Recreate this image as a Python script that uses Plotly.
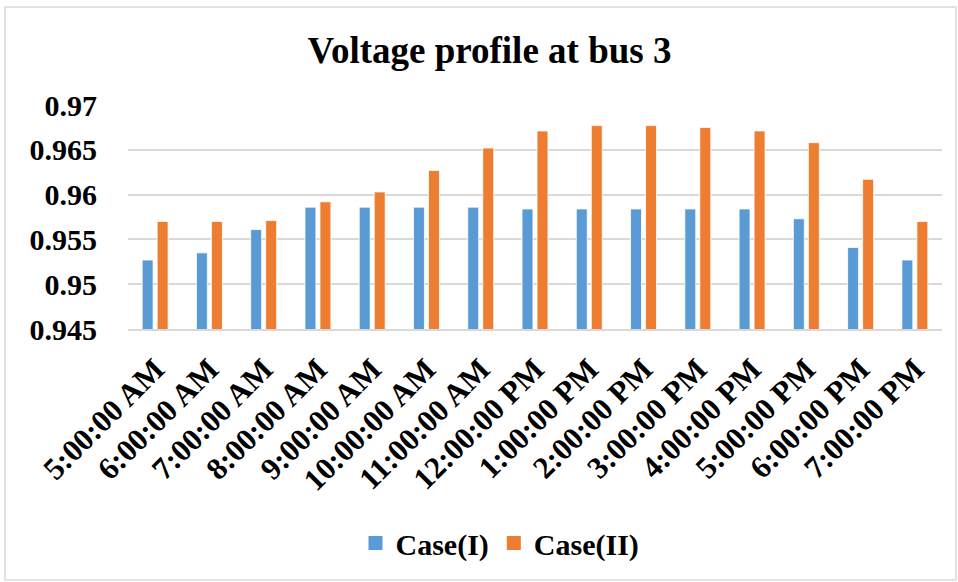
import plotly.graph_objects as go

# Hourly time stamps
hours = ["5:00:00 AM", "6:00:00 AM", "7:00:00 AM", "8:00:00 AM", "9:00:00 AM",
         "10:00:00 AM", "11:00:00 AM", "12:00:00 PM", "1:00:00 PM", "2:00:00 PM",
         "3:00:00 PM", "4:00:00 PM", "5:00:00 PM", "6:00:00 PM", "7:00:00 PM"]

# Bus 3 voltage (p.u.)
case_1 = [0.9527, 0.9535, 0.9561, 0.9586, 0.9586, 0.9586, 0.9586, 0.9584,
          0.9584, 0.9584, 0.9584, 0.9584, 0.9573, 0.9541, 0.9527]
case_2 = [0.9570, 0.9570, 0.9571, 0.9592, 0.9603, 0.9627, 0.9652, 0.9671,
          0.9677, 0.9677, 0.9675, 0.9671, 0.9658, 0.9617, 0.9570]

series_names = ["Case(I)", "Case(II)"]
series_colors = ["#5B9BD5", "#ED7D31"]

y_ticks = [0.945, 0.95, 0.955, 0.96, 0.965, 0.97]
y_tick_text = ["0.945", "0.95", "0.955", "0.96", "0.965", "0.97"]

SERIF = "Liberation Serif"
GRID = "#D9D9D9"

fig = go.Figure()
for name, color, values in zip(series_names, series_colors, [case_1, case_2]):
    fig.add_trace(go.Bar(x=hours, y=values, name=name, showlegend=False,
                         marker=dict(color=color, line=dict(color="white", width=0.8))))
# Square legend keys
for name, color in zip(series_names, series_colors):
    fig.add_trace(go.Scatter(x=[None], y=[None], mode="markers", name=name,
                             marker=dict(symbol="square", size=14, color=color)))

fig.update_layout(
    width=958, height=582,
    margin=dict(l=128, r=16, t=105, b=253),
    paper_bgcolor="white", plot_bgcolor="white",
    barmode="group", bargap=0.447, bargroupgap=0.27,
    title=dict(text="Voltage profile at bus 3", x=0.511, xanchor="center",
               y=1 - 50 / 582, yanchor="middle",
               font=dict(family=SERIF, size=37, color="black", weight="bold")),
    legend=dict(orientation="h", x=0.457, xanchor="center", y=-0.955, yanchor="middle",
                font=dict(family=SERIF, size=30, color="black", weight="bold"),
                itemwidth=30, bgcolor="rgba(0,0,0,0)"),
    showlegend=True,
)

fig.update_yaxes(range=[0.945, 0.97], tickvals=y_ticks, ticktext=y_tick_text,
                 showgrid=True, gridcolor=GRID, gridwidth=1.5,
                 zeroline=False, showline=False,
                 ticks="outside", ticklen=24, tickcolor="rgba(0,0,0,0)",
                 tickfont=dict(family=SERIF, size=30, color="black", weight="bold"))
fig.update_xaxes(tickangle=-45, showgrid=False, showline=True, linecolor=GRID, linewidth=1.5,
                 ticks="outside", ticklen=8, tickcolor="rgba(0,0,0,0)",
                 tickfont=dict(family=SERIF, size=31, color="black", weight="bold"))

# Chart area border
fig.add_shape(type="rect", xref="paper", yref="paper",
              x0=(5 - 128) / 814, x1=(956 - 128) / 814,
              y0=(329 - 580) / 224, y1=(329 - 7) / 224,
              line=dict(color=GRID, width=1.5), fillcolor="rgba(0,0,0,0)", layer="below")

fig.write_html("out.html")
